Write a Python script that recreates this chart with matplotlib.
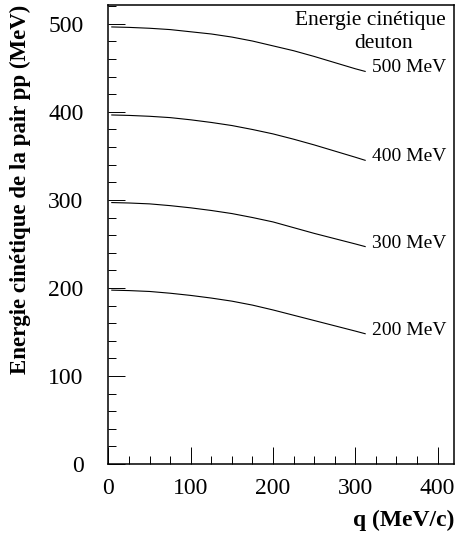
import numpy as np
import matplotlib
matplotlib.use("Agg")
import matplotlib.pyplot as plt
from matplotlib.ticker import MultipleLocator

# values
q = [4, 25, 50, 75, 100, 125, 150, 175, 200, 225, 250, 275, 300, 312]
e_500 = [496.5, 496, 495, 493.5, 491, 488.5, 485, 480.5, 475, 469.5, 463, 456, 449, 446]
e_400 = [396.5, 396, 395, 393.5, 391, 388, 384.5, 380, 375, 369, 362.5, 355.5, 348.5, 345]
e_300 = [297, 296.5, 295.5, 293.5, 291, 288, 284.5, 280, 275, 268.5, 262, 256, 250, 247]
e_200 = [197.5, 197, 196, 194, 191.5, 188.5, 185, 180.5, 175, 169, 163, 157, 151, 148]
curve_labels = ["500 MeV", "400 MeV", "300 MeV", "200 MeV"]

plt.rcParams['font.family'] = ['Liberation Serif', 'DejaVu Serif']

fig = plt.figure(figsize=(4.56, 5.35), dpi=100)
ax = fig.add_axes([108.5 / 456, 71 / 535, 345.5 / 456, 459.5 / 535])

for ys, lab in zip([e_500, e_400, e_300, e_200], curve_labels):
    ax.plot(q, ys, color='black', lw=0.8)
    ax.text(320, ys[-1] + 4, lab, fontsize=14, va='center', ha='left')

ax.text(0.977, 0.966, "Energie cinétique", transform=ax.transAxes,
        fontsize=15.5, ha='right', va='center')
ax.text(0.797, 0.916, "deuton", transform=ax.transAxes,
        fontsize=15.5, ha='center', va='center')

ax.set_xlim(0, 420)
ax.set_ylim(0, 522)
ax.xaxis.set_major_locator(MultipleLocator(100))
ax.xaxis.set_minor_locator(MultipleLocator(25))
ax.yaxis.set_major_locator(MultipleLocator(100))
ax.yaxis.set_minor_locator(MultipleLocator(20))
ax.tick_params(which='both', direction='in', top=False, right=False,
               width=0.7, labelsize=17)
ax.tick_params(which='major', length=12.2)
ax.tick_params(which='minor', length=5.8)
ax.tick_params(axis='y', which='major', pad=18)
ax.tick_params(axis='x', which='major', pad=10)
for s in ax.spines.values():
    s.set_linewidth(1.1)

ax.text(1.0, -0.122, "q (MeV/c)", transform=ax.transAxes, fontsize=17,
        fontweight='bold', ha='right', va='center')
fig.text(20 / 456, 530 / 535, "Energie cinétique de la pair pp (MeV)",
         fontsize=16.5, fontweight='bold', rotation=90, ha='center', va='top')

fig.savefig("out.png", dpi=100)
